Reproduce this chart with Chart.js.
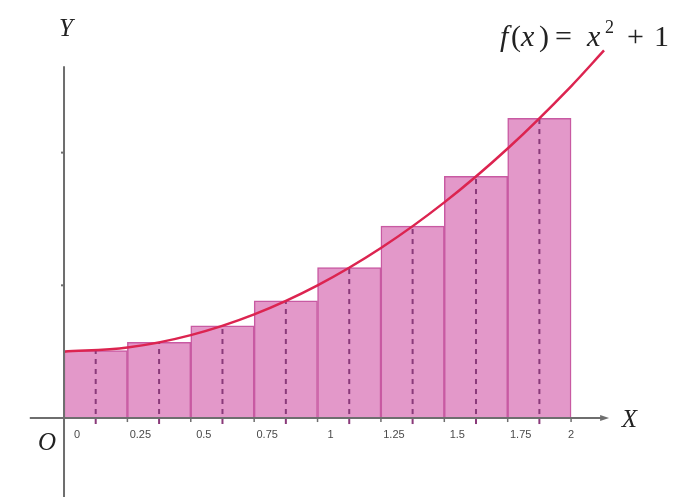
<!DOCTYPE html>
<html lang="en">
<head>
  <meta charset="UTF-8" />
  <title>Midpoint sum for f(x) = x^2 + 1</title>
  <script src="https://cdn.jsdelivr.net/npm/chart.js"></script>
  <style>
    html, body { margin: 0; padding: 0; background: #fff; }
    #wrap { width: 674px; height: 497px; }
  </style>
</head>
<body>
  <div id="wrap"><canvas id="riemann"></canvas></div>

  <script>
    // midpoints of the 8 subintervals and the rectangle heights f(midpoint)
    const midpoints = [0.125, 0.375, 0.625, 0.875, 1.125, 1.375, 1.625, 1.875];
    const heights = [1.016, 1.141, 1.391, 1.766, 2.266, 2.891, 3.641, 4.516];

    // sampled curve f(x) = x^2 + 1
    const curveX = [0, 0.25, 0.5, 0.75, 1, 1.25, 1.5, 1.75, 2, 2.13];
    const curveY = [1, 1.0625, 1.25, 1.5625, 2, 2.5625, 3.25, 4.0625, 5, 5.54];

    const xTicks = ['0', '0.25', '0.5', '0.75', '1', '1.25', '1.5', '1.75', '2'];
    const xTickValues = [0, 0.25, 0.5, 0.75, 1, 1.25, 1.5, 1.75, 2];
    const yTickValues = [2, 4];

    const SERIF = '"Liberation Serif", "DejaVu Serif", serif';

    // dashed midpoint lines go on top of the bars, under the curve
    const dashPlugin = {
      id: 'dashes',
      afterDatasetDraw(chart, args) {
        if (args.index !== 1) return;
        const { ctx, scales: { x, y } } = chart;
        ctx.save();
        ctx.strokeStyle = '#8a3a7a';
        ctx.lineWidth = 2;
        ctx.setLineDash([5, 5]);
        midpoints.forEach((m, i) => {
          const px = x.getPixelForValue(m);
          ctx.beginPath();
          ctx.moveTo(px, y.getPixelForValue(0) + 6);
          ctx.lineTo(px, y.getPixelForValue(heights[i]));
          ctx.stroke();
        });
        ctx.restore();
      }
    };

    // axes, ticks, tick labels and text
    const axesPlugin = {
      id: 'axes',
      afterDatasetsDraw(chart) {
        const { ctx, scales: { x, y } } = chart;
        const x0 = x.getPixelForValue(0);
        const y0 = y.getPixelForValue(0);
        ctx.save();
        ctx.strokeStyle = '#6e6e6e';
        ctx.lineWidth = 2;
        // x axis
        ctx.beginPath();
        ctx.moveTo(x.getPixelForValue(-0.135), y0);
        ctx.lineTo(x.getPixelForValue(2.13), y0);
        ctx.stroke();
        ctx.fillStyle = '#6e6e6e';
        const ax = x.getPixelForValue(2.15);
        ctx.beginPath();
        ctx.moveTo(ax, y0);
        ctx.lineTo(ax - 9, y0 - 3);
        ctx.lineTo(ax - 9, y0 + 3);
        ctx.closePath();
        ctx.fill();
        // y axis
        ctx.beginPath();
        ctx.moveTo(x0, y.getPixelForValue(5.3));
        ctx.lineTo(x0, y.getPixelForValue(-1.25));
        ctx.stroke();
        yTickValues.forEach(v => {
          const py = y.getPixelForValue(v);
          ctx.beginPath();
          ctx.moveTo(x0 - 3, py);
          ctx.lineTo(x0 + 1, py);
          ctx.stroke();
        });
        // x tick marks and labels
        ctx.lineWidth = 1.5;
        ctx.font = '11px "Liberation Sans", Arial, sans-serif';
        ctx.fillStyle = '#4a4a4a';
        ctx.textAlign = 'center';
        ctx.textBaseline = 'middle';
        xTickValues.forEach((v, i) => {
          const px = x.getPixelForValue(v);
          ctx.beginPath();
          ctx.moveTo(px, y0);
          ctx.lineTo(px, y0 + 4);
          ctx.stroke();
          const off = i === xTicks.length - 1 ? 0 : 13;
          ctx.fillText(xTicks[i], px + off, y0 + 17);
        });
        // axis names
        ctx.fillStyle = '#222';
        ctx.font = 'italic 25px ' + SERIF;
        ctx.fillText('Y', x0 + 2, y.getPixelForValue(5.85));
        ctx.fillText('X', x.getPixelForValue(2.23), y0 + 2);
        ctx.fillText('O', x0 - 17, y0 + 25);
        // function label, glyph by glyph
        ctx.textAlign = 'left';
        ctx.textBaseline = 'alphabetic';
        const ty = 46;
        const glyphs = [
          ['italic 30px', 'f', 500, ty], ['30px', '(', 511, ty], ['italic 30px', 'x', 521, ty],
          ['30px', ')', 539, ty], ['30px', '=', 555, ty], ['italic 30px', 'x', 587, ty],
          ['18px', '2', 605, 33], ['30px', '+', 627, ty], ['30px', '1', 654, ty]
        ];
        glyphs.forEach(([f, s, gx, gy]) => {
          ctx.font = f + ' ' + SERIF;
          ctx.fillText(s, gx, gy);
        });
        ctx.restore();
      }
    };

    const ctx = document.getElementById('riemann').getContext('2d');
    const chart = new Chart(ctx, {
      type: 'bar',
      data: {
        datasets: [
          {
            type: 'line',
            label: 'f(x)',
            data: curveX.map((xv, i) => ({ x: xv, y: curveY[i] })),
            borderColor: '#dc2450',
            borderWidth: 2.5,
            pointRadius: 0,
            fill: false,
            cubicInterpolationMode: 'monotone',
            order: 0
          },
          {
            type: 'bar',
            label: 'rectangles',
            data: midpoints.map((m, i) => ({ x: m, y: heights[i] })),
            backgroundColor: '#e398c9',
            borderColor: '#c85aa2',
            borderWidth: 1.5,
            barPercentage: 1,
            categoryPercentage: 1,
            order: 1
          }
        ]
      },
      options: {
        responsive: true,
        maintainAspectRatio: false,
        animation: false,
        layout: { padding: 0 },
        plugins: {
          legend: { display: false },
          tooltip: { enabled: false }
        },
        scales: {
          x: {
            type: 'linear',
            display: false,
            offset: false,
            min: -0.2525,
            max: 2.406
          },
          y: {
            display: false,
            min: -1.19,
            max: 6.30
          }
        }
      },
      plugins: [dashPlugin, axesPlugin]
    });
  </script>
</body>
</html>
